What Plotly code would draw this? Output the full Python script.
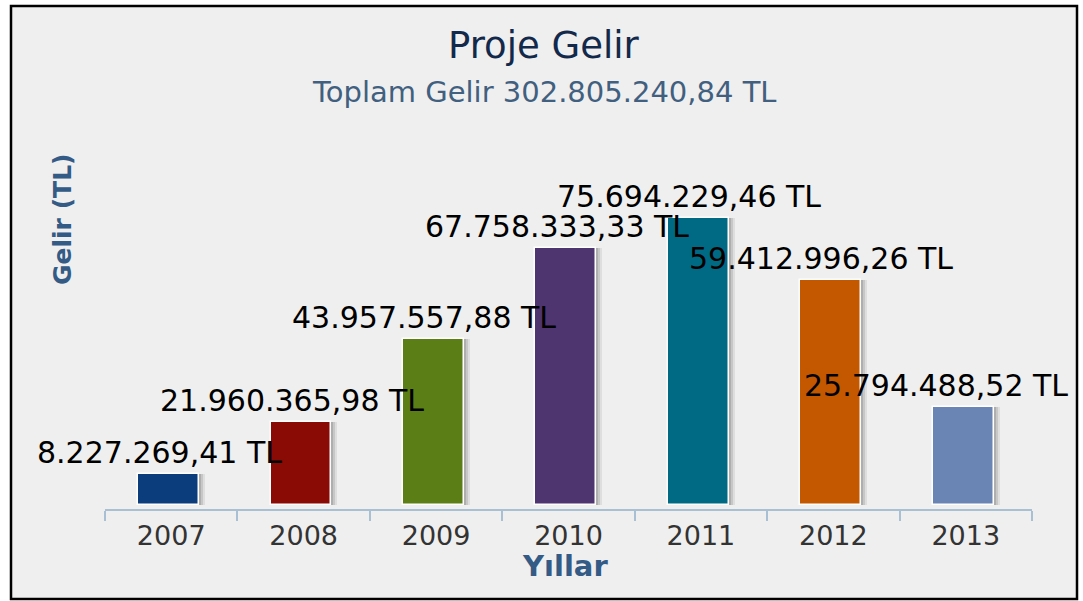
import plotly.graph_objects as go

# ---- data ----
years = ["2007", "2008", "2009", "2010", "2011", "2012", "2013"]
income = [8227269.41, 21960365.98, 43957557.88, 67758333.33, 75694229.46, 59412996.26, 25794488.52]
bar_colors = ["#0b3d7d", "#8a0a06", "#5b7f16", "#4f3570", "#006a84", "#c35800", "#6a84b3"]
title_text = "Proje Gelir"
x_title = "Yıllar"
y_title = "Gelir (TL)"


def tl(v):
    s = f"{v:,.2f}"
    s = s.replace(",", "X").replace(".", ",").replace("X", ".")
    return s + " TL"


subtitle_text = "Toplam Gelir " + tl(sum(income))

W, H = 1083, 601
L, R, T, B = 105, 51, 120, 92
PW, PH = W - L - R, H - T - B
ymin, ymax = -1.0e6, 101.6e6


def px_x(px):
    return (px - L) / PW


def px_y(py):
    return (H - B - py) / PH


bw = 0.46
boff = -bw / 2 - 0.02

fig = go.Figure()
# shadow layers
for dx, a in [(0.045, 0.07), (0.03, 0.10), (0.015, 0.12)]:
    fig.add_trace(go.Bar(
        x=years, y=income, width=bw, offset=boff + dx,
        marker=dict(color=f"rgba(0,0,0,{a})", line=dict(width=0)),
        hoverinfo="skip", showlegend=False,
    ))
fig.add_trace(go.Bar(
    x=years, y=income, width=bw, offset=boff,
    marker=dict(color=bar_colors, line=dict(color="white", width=1.5)),
    showlegend=False,
))

annotations = []
n = len(income)
for i, v in enumerate(income):
    shift = -12 if i < n - 1 else -30  # keep the last label inside the frame
    annotations.append(dict(
        x=i, y=v, xref="x", yref="y", text=tl(v), showarrow=False,
        yanchor="bottom", xanchor="center", xshift=shift, yshift=2,
        font=dict(family="DejaVu Sans", size=30, color="#000000"),
    ))

annotations += [
    dict(x=px_x(543), y=px_y(46), xref="paper", yref="paper", text=title_text, showarrow=False,
         xanchor="center", yanchor="middle",
         font=dict(family="DejaVu Sans", size=37, color="#13294b")),
    dict(x=px_x(544), y=px_y(92), xref="paper", yref="paper", text=subtitle_text, showarrow=False,
         xanchor="center", yanchor="middle",
         font=dict(family="DejaVu Sans", size=29, color="#41607f")),
    dict(x=px_x(565), y=px_y(566), xref="paper", yref="paper", text="<b>" + x_title + "</b>", showarrow=False,
         xanchor="center", yanchor="middle",
         font=dict(family="DejaVu Sans", size=29, color="#335b85")),
    dict(x=px_x(62), y=px_y(220), xref="paper", yref="paper", text="<b>" + y_title + "</b>", showarrow=False,
         xanchor="center", yanchor="middle", textangle=-90,
         font=dict(family="DejaVu Sans", size=25, color="#335b85")),
]

shapes = [
    dict(type="rect", xref="paper", yref="paper", layer="below",
         x0=px_x(11), x1=px_x(1077), y0=px_y(599), y1=px_y(6),
         fillcolor="#efefef", line=dict(color="#000000", width=2.5)),
]

fig.update_layout(
    width=W, height=H,
    margin=dict(l=L, r=R, t=T, b=B, pad=0),
    paper_bgcolor="white", plot_bgcolor="rgba(0,0,0,0)",
    barmode="overlay", bargap=0,
    showlegend=False,
    annotations=annotations, shapes=shapes,
    xaxis=dict(
        type="category", range=[-0.5, 6.5],
        showline=True, linecolor="#a9bfd3", linewidth=2,
        ticks="outside", tickson="boundaries", ticklen=10, tickwidth=2, tickcolor="#a9bfd3",
        tickfont=dict(family="DejaVu Sans", size=27, color="#333333"),
        ticklabelstandoff=2,
        showgrid=False, zeroline=False,
    ),
    yaxis=dict(
        range=[ymin, ymax], showticklabels=False, showgrid=False, zeroline=False,
        showline=False, ticks="",
    ),
)

fig.write_html(
    "out.html",
    config={"displayModeBar": False},
    post_script="document.body.style.margin='0';document.body.style.overflow='hidden';",
)
